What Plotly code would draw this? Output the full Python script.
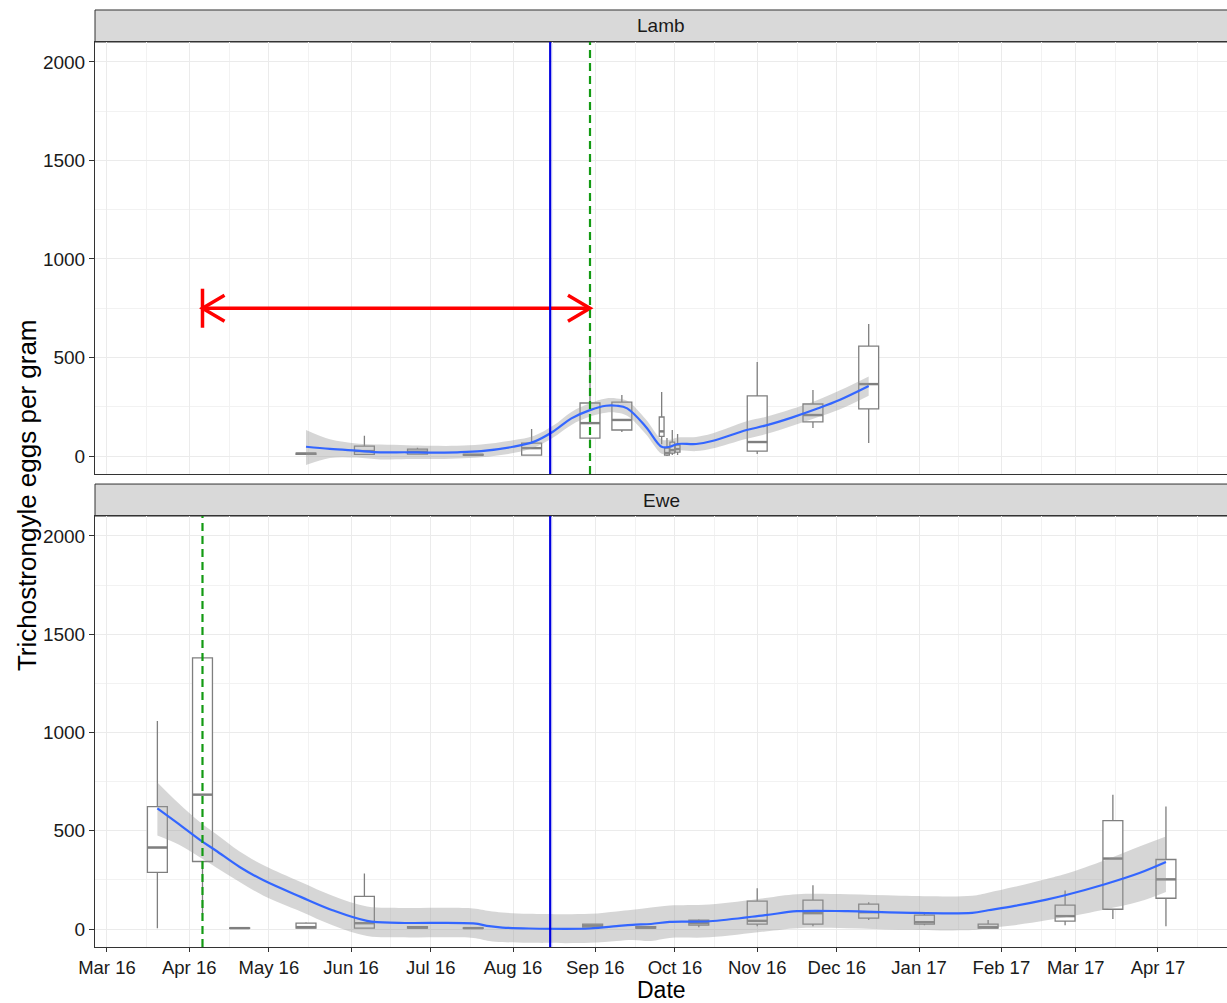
import pandas as pd
import plotly.graph_objects as go
from plotly.subplots import make_subplots

# ---------------- Lamb: faecal egg count box summaries per sampling date ----------------
lamb_dates = ["2016-05-15", "2016-06-06", "2016-06-26", "2016-07-17", "2016-08-08",
              "2016-08-30", "2016-09-11", "2016-09-26", "2016-09-28", "2016-09-30",
              "2016-10-02", "2016-11-01", "2016-11-22", "2016-12-13"]
lamb_low = [5, 5, 8, 3, 3, 40, 122, 60, 0, 5, 5, 10, 142, 66]
lamb_q1 = [8, 8, 10, 5, 5, 91, 132, 100, 5, 15, 20, 25, 173, 239]
lamb_med = [12, 25, 22, 6, 40, 167, 183, 125, 15, 30, 35, 71, 208, 365]
lamb_q3 = [15, 50, 35, 8, 65, 269, 274, 198, 40, 71, 56, 305, 264, 558]
lamb_high = [18, 103, 42, 10, 137, 518, 310, 325, 91, 132, 112, 477, 335, 670]

# Lamb loess fit with its confidence band
lamb_fit_dates = ["2016-05-15", "2016-05-24", "2016-06-03", "2016-06-12", "2016-06-22",
                  "2016-07-01", "2016-07-11", "2016-07-20", "2016-08-01", "2016-08-09",
                  "2016-08-16", "2016-08-23", "2016-08-30", "2016-09-05", "2016-09-09",
                  "2016-09-13", "2016-09-20", "2016-09-26", "2016-09-29", "2016-10-02",
                  "2016-10-09", "2016-10-15", "2016-10-28", "2016-11-04", "2016-11-14",
                  "2016-11-24", "2016-12-02", "2016-12-13"]
lamb_fit = [47, 36, 27, 19, 19, 17, 19, 25, 47, 73, 123, 191, 233, 255, 255,
            242, 149, 47, 47, 61, 61, 76, 132, 154, 195, 242, 284, 355]
lamb_lo = [-46, -10, -8, -18, -15, -15, -12, -6, 15, 43, 93, 158, 200, 220, 220,
           205, 112, 12, 12, 28, 25, 38, 88, 110, 152, 198, 236, 306]
lamb_hi = [132, 85, 64, 58, 55, 52, 52, 58, 80, 103, 153, 224, 268, 292, 292,
           280, 186, 84, 82, 94, 97, 114, 176, 198, 238, 286, 332, 404]

# ---------------- Ewe: faecal egg count box summaries per sampling date ----------------
ewe_dates = ["2016-03-20", "2016-04-06", "2016-04-20", "2016-05-15", "2016-06-06",
             "2016-06-26", "2016-07-17", "2016-08-31", "2016-09-20", "2016-10-10",
             "2016-11-01", "2016-11-22", "2016-12-13", "2017-01-03", "2017-01-27",
             "2017-02-25", "2017-03-15", "2017-04-04"]
ewe_low = [5, 71, 3, 3, 3, 3, 3, 5, 3, 10, 15, 15, 46, 20, 3, 20, 51, 15]
ewe_q1 = [289, 344, 4, 5, 5, 5, 4, 10, 5, 20, 25, 25, 56, 25, 5, 41, 101, 157]
ewe_med = [415, 684, 5, 10, 30, 8, 5, 18, 8, 30, 42, 81, 86, 35, 10, 66, 359, 253]
ewe_q3 = [623, 1380, 6, 30, 167, 12, 6, 25, 12, 45, 142, 147, 127, 71, 25, 122, 552, 354]
ewe_high = [1058, 1380, 8, 35, 283, 15, 8, 28, 15, 50, 208, 223, 137, 86, 46, 197, 684, 623]

# Ewe loess fit with its confidence band
ewe_fit_dates = ["2016-03-20", "2016-03-28", "2016-04-05", "2016-04-11", "2016-04-20",
                 "2016-04-29", "2016-05-13", "2016-05-25", "2016-06-07", "2016-06-19",
                 "2016-07-17", "2016-07-23", "2016-07-28", "2016-08-07", "2016-08-30",
                 "2016-09-09", "2016-09-15", "2016-09-22", "2016-09-29", "2016-10-14",
                 "2016-11-04", "2016-11-16", "2016-12-05", "2016-12-25", "2017-01-21",
                 "2017-01-27", "2017-02-06", "2017-02-18", "2017-02-25", "2017-03-12",
                 "2017-03-25", "2017-04-04"]
ewe_fit = [614, 535, 454, 400, 316, 248, 164, 96, 42, 32, 29, 15, 8, 3, 3, 15,
           22, 26, 37, 40, 71, 91, 91, 84, 83, 96, 118, 150, 172, 228, 285, 341]
ewe_lo = [476, 430, 365, 315, 240, 170, 90, 20, -35, -42, -45, -60, -66, -70, -70, -60,
          -55, -60, -45, -42, -12, 5, 5, -3, -5, 5, 20, 45, 60, 100, 140, 189]
ewe_hi = [746, 640, 545, 485, 395, 325, 240, 170, 115, 108, 105, 92, 84, 78, 78, 90,
          98, 110, 120, 125, 158, 177, 177, 170, 170, 185, 215, 255, 280, 350, 420, 471]

# Reference events
weaning_date = "2016-08-15"          # solid blue line, both panels
lamb_event_date = "2016-08-30"       # dashed green line, Lamb panel
ewe_event_date = "2016-04-06"        # dashed green line, Ewe panel
arrow_start, arrow_end, arrow_y = "2016-04-06", "2016-08-30", 750

tick_values = [0, 500, 1000, 1500, 2000]

# ---------------- styling ----------------
FONT = "Liberation Sans, Arial, sans-serif"
BOX_LINE = "#7f7f7f"
FIT_LINE = "#3366FF"
BAND_FILL = "rgba(153,153,153,0.4)"
DAY_MS = 86400000.0

fig = make_subplots(rows=2, cols=1)


def box_widths(dates):
    """Box width in days: 0.9 x the gap to the nearest neighbouring sample, capped."""
    ts = pd.to_datetime(pd.Series(dates))
    widths = []
    for i, t in enumerate(ts):
        gaps = [abs((t - u).days) for j, u in enumerate(ts) if j != i]
        widths.append(min(7.5, 0.9 * min(gaps)))
    return widths


def add_panel(row, dates, low, q1, med, q3, high, fdates, fit, lo, hi):
    widths = box_widths(dates)
    mx, my = [], []
    for d, lw, a, m, b, hg, w in zip(dates, low, q1, med, q3, high, widths):
        fig.add_trace(go.Box(
            x=[d], lowerfence=[lw], q1=[a], median=[m], q3=[b], upperfence=[hg],
            width=w * DAY_MS, fillcolor="white", whiskerwidth=0, boxpoints=False,
            line=dict(color=BOX_LINE, width=1.3), hoverinfo="skip"), row=row, col=1)
        t = pd.Timestamp(d)
        half = pd.Timedelta(days=w / 2)
        mx += [t - half, t + half, None]
        my += [m, m, None]
    # thicker median bars
    fig.add_trace(go.Scatter(x=mx, y=my, mode="lines",
                             line=dict(color=BOX_LINE, width=2.4),
                             hoverinfo="skip"), row=row, col=1)
    # confidence band
    fig.add_trace(go.Scatter(x=fdates, y=lo, mode="lines", line=dict(width=0, shape="spline"),
                             hoverinfo="skip"), row=row, col=1)
    fig.add_trace(go.Scatter(x=fdates, y=hi, mode="lines", line=dict(width=0, shape="spline"),
                             fill="tonexty", fillcolor=BAND_FILL, hoverinfo="skip"),
                  row=row, col=1)
    # fitted line
    fig.add_trace(go.Scatter(x=fdates, y=fit, mode="lines",
                             line=dict(color=FIT_LINE, width=2.2, shape="spline"),
                             hoverinfo="skip"), row=row, col=1)


add_panel(1, lamb_dates, lamb_low, lamb_q1, lamb_med, lamb_q3, lamb_high,
          lamb_fit_dates, lamb_fit, lamb_lo, lamb_hi)
add_panel(2, ewe_dates, ewe_low, ewe_q1, ewe_med, ewe_q3, ewe_high,
          ewe_fit_dates, ewe_fit, ewe_lo, ewe_hi)

# red double-headed arrow in the Lamb panel
head_days = pd.Timedelta(days=8.3)
head_half = 66
bar_half = 99
a0, a1 = pd.Timestamp(arrow_start), pd.Timestamp(arrow_end)
arrow_x = [a0, a1, None,
           a0 + head_days, a0, a0 + head_days, None,
           a1 - head_days, a1, a1 - head_days, None,
           a0, a0]
arrow_yv = [arrow_y, arrow_y, None,
            arrow_y + head_half, arrow_y, arrow_y - head_half, None,
            arrow_y + head_half, arrow_y, arrow_y - head_half, None,
            arrow_y + bar_half, arrow_y - bar_half]
fig.add_trace(go.Scatter(x=arrow_x, y=arrow_yv, mode="lines",
                         line=dict(color="#FF0000", width=3.5), hoverinfo="skip"),
              row=1, col=1)

# vertical reference lines
for xr, yr in (("x", "y domain"), ("x2", "y2 domain")):
    fig.add_shape(type="line", x0=weaning_date, x1=weaning_date, y0=0, y1=1,
                  xref=xr, yref=yr, line=dict(color="#0000E0", width=2.2))
fig.add_shape(type="line", x0=lamb_event_date, x1=lamb_event_date, y0=0, y1=1,
              xref="x", yref="y domain", line=dict(color="#139A13", width=2.2, dash="8px,5px"))
fig.add_shape(type="line", x0=ewe_event_date, x1=ewe_event_date, y0=0, y1=1,
              xref="x2", yref="y2 domain", line=dict(color="#139A13", width=2.2, dash="8px,5px"))

# ---------------- layout ----------------
TOP_DOM = [0.5227, 1.0]
BOT_DOM = [0.0, 0.4762]
STRIP_H = 0.03536

xrange = ["2016-02-25 12:00", "2017-04-27"]
common_x = dict(range=xrange, type="date", tick0="2016-03-01", dtick="M1",
                tickformat="%b %y", showgrid=True, gridcolor="#EBEBEB", gridwidth=1.3,
                minor=dict(showgrid=True, gridcolor="#F2F2F2", gridwidth=1.0,
                           tick0="2016-03-16", dtick="M1"),
                showline=True, mirror=True, linecolor="#333333", linewidth=1,
                zeroline=False, domain=[0, 1])
common_y = dict(range=[-91, 2101], tickvals=tick_values, showgrid=True,
                gridcolor="#EBEBEB", gridwidth=1.3,
                minor=dict(showgrid=True, gridcolor="#F2F2F2", gridwidth=1.0,
                           tick0=250, dtick=500),
                showline=True, mirror=True, linecolor="#333333", linewidth=1,
                zeroline=False, ticks="outside", ticklen=5, tickcolor="#333333",
                tickfont=dict(size=19, color="#1a1a1a", family=FONT))

fig.update_layout(
    width=1227, height=1003,
    margin=dict(l=95, r=0, t=42, b=56),
    plot_bgcolor="white", paper_bgcolor="white",
    boxmode="overlay", showlegend=False,
    font=dict(family=FONT, color="#1a1a1a"),
    xaxis=dict(common_x, showticklabels=False, ticks=""),
    xaxis2=dict(common_x, ticks="outside", ticklen=4, tickcolor="#333333",
                tickfont=dict(size=18.5, color="#1a1a1a", family=FONT)),
    yaxis=dict(common_y, domain=TOP_DOM),
    yaxis2=dict(common_y, domain=BOT_DOM),
)

# facet strips
for lab, dom in (("Lamb", TOP_DOM), ("Ewe", BOT_DOM)):
    fig.add_shape(type="rect", xref="paper", yref="paper", x0=0, x1=1.002,
                  y0=dom[1], y1=dom[1] + STRIP_H, fillcolor="#D9D9D9",
                  line=dict(color="#333333", width=1), layer="below")
    fig.add_annotation(text=lab, xref="paper", yref="paper", x=0.5,
                       y=dom[1] + STRIP_H / 2, showarrow=False,
                       font=dict(size=19, color="#1a1a1a", family=FONT),
                       xanchor="center", yanchor="middle")

# axis titles
fig.add_annotation(text="Date", xref="paper", yref="paper", x=0.5, y=-0.0478,
                   showarrow=False, xanchor="center", yanchor="middle",
                   font=dict(size=23, color="#000000", family=FONT))
fig.add_annotation(text="Trichostrongyle eggs per gram", xref="paper", yref="paper",
                   x=-0.060, y=0.4994, textangle=-90, showarrow=False,
                   xanchor="center", yanchor="middle",
                   font=dict(size=26, color="#000000", family=FONT))

fig.write_html("out.html")
